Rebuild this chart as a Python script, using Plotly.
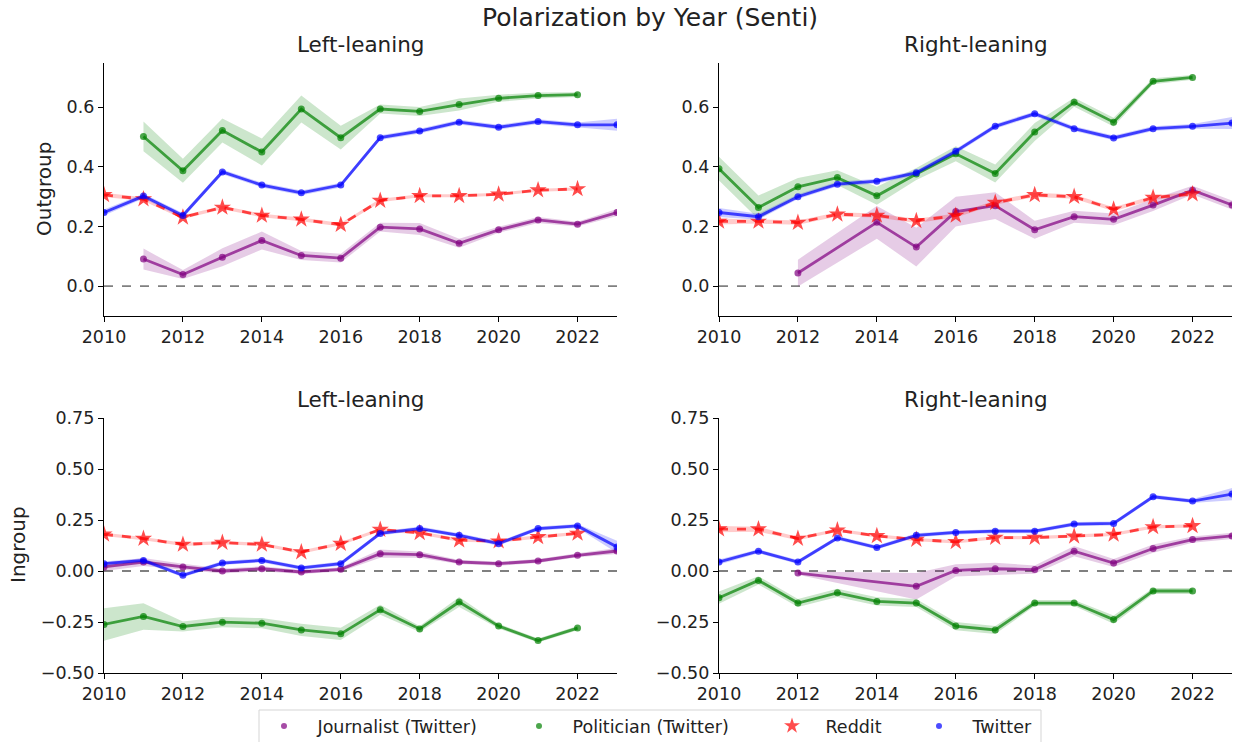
import plotly.graph_objects as go

years = list(range(2010, 2024))
series_names = ["Journalist (Twitter)", "Politician (Twitter)", "Reddit", "Twitter"]

# ---- Outgroup, Left-leaning ----
out_left_journalist = [None, 0.091, 0.039, 0.097, 0.153, 0.103, 0.094, 0.198, 0.192, 0.144, 0.189, 0.222, 0.208, 0.247]
out_left_journalist_ci = [None, 0.035, 0.015, 0.03, 0.03, 0.015, 0.015, 0.015, 0.02, 0.015, 0.01, 0.01, 0.008, 0.012]
out_left_politician = [None, 0.502, 0.387, 0.522, 0.450, 0.594, 0.498, 0.594, 0.586, 0.609, 0.630, 0.639, 0.642, None]
out_left_politician_ci = [None, 0.05, 0.04, 0.04, 0.045, 0.045, 0.04, 0.015, 0.015, 0.02, 0.012, 0.01, 0.008, None]
out_left_reddit = [0.306, 0.292, 0.231, 0.264, 0.237, 0.224, 0.206, 0.287, 0.303, 0.303, 0.308, 0.322, 0.326, None]
out_left_reddit_ci = [0.007, 0.006, 0.006, 0.006, 0.006, 0.006, 0.006, 0.006, 0.005, 0.005, 0.005, 0.005, 0.005, None]
out_left_twitter = [0.247, 0.302, 0.237, 0.383, 0.339, 0.313, 0.339, 0.498, 0.520, 0.550, 0.533, 0.552, 0.541, 0.541]
out_left_twitter_ci = [0.01, 0.008, 0.008, 0.008, 0.008, 0.008, 0.008, 0.008, 0.008, 0.008, 0.008, 0.008, 0.008, 0.02]

# ---- Outgroup, Right-leaning ----
out_right_journalist = [None, None, 0.044, None, 0.214, 0.131, 0.250, 0.270, 0.189, 0.233, 0.224, 0.272, 0.322, 0.272]
out_right_journalist_ci = [None, None, 0.045, None, 0.055, 0.065, 0.05, 0.045, 0.03, 0.02, 0.02, 0.02, 0.015, 0.015]
out_right_politician = [0.394, 0.264, 0.333, 0.364, 0.303, 0.376, 0.444, 0.378, 0.517, 0.617, 0.550, 0.687, 0.700, None]
out_right_politician_ci = [0.04, 0.04, 0.03, 0.025, 0.03, 0.02, 0.025, 0.03, 0.03, 0.015, 0.015, 0.01, 0.008, None]
out_right_reddit = [0.217, 0.217, 0.213, 0.241, 0.237, 0.219, 0.237, 0.280, 0.306, 0.300, 0.258, 0.297, 0.309, None]
out_right_reddit_ci = [0.01, 0.007, 0.007, 0.007, 0.007, 0.007, 0.007, 0.007, 0.007, 0.007, 0.007, 0.007, 0.007, None]
out_right_twitter = [0.247, 0.233, 0.300, 0.342, 0.352, 0.380, 0.452, 0.536, 0.578, 0.528, 0.497, 0.528, 0.536, 0.547]
out_right_twitter_ci = [0.015, 0.01, 0.008, 0.008, 0.008, 0.008, 0.008, 0.008, 0.008, 0.008, 0.008, 0.008, 0.008, 0.02]

# ---- Ingroup, Left-leaning ----
in_left_journalist = [0.020, 0.044, 0.020, 0.000, 0.011, -0.005, 0.008, 0.085, 0.080, 0.044, 0.036, 0.049, 0.077, 0.098]
in_left_journalist_ci = [0.02, 0.02, 0.015, 0.012, 0.012, 0.01, 0.01, 0.02, 0.015, 0.01, 0.01, 0.01, 0.01, 0.015]
in_left_politician = [-0.262, -0.223, -0.272, -0.251, -0.256, -0.289, -0.308, -0.190, -0.284, -0.152, -0.270, -0.341, -0.280, None]
in_left_politician_ci = [0.08, 0.065, 0.025, 0.025, 0.025, 0.03, 0.03, 0.025, 0.015, 0.025, 0.012, 0.01, 0.01, None]
in_left_reddit = [0.180, 0.159, 0.130, 0.139, 0.130, 0.093, 0.134, 0.203, 0.187, 0.151, 0.146, 0.167, 0.184, None]
in_left_reddit_ci = [0.008, 0.008, 0.008, 0.008, 0.008, 0.008, 0.008, 0.008, 0.008, 0.008, 0.008, 0.008, 0.008, None]
in_left_twitter = [0.036, 0.052, -0.021, 0.039, 0.052, 0.015, 0.036, 0.184, 0.208, 0.175, 0.134, 0.208, 0.221, 0.118]
in_left_twitter_ci = [0.01, 0.01, 0.01, 0.01, 0.01, 0.01, 0.01, 0.01, 0.01, 0.01, 0.01, 0.01, 0.01, 0.03]

# ---- Ingroup, Right-leaning ----
in_right_journalist = [None, None, -0.010, None, None, -0.075, 0.003, 0.011, 0.007, 0.097, 0.039, 0.110, 0.154, 0.172]
in_right_journalist_ci = [None, None, 0.008, None, None, 0.065, 0.03, 0.03, 0.02, 0.025, 0.02, 0.02, 0.015, 0.015]
in_right_politician = [-0.131, -0.046, -0.157, -0.107, -0.149, -0.157, -0.270, -0.289, -0.157, -0.157, -0.238, -0.098, -0.098, None]
in_right_politician_ci = [0.03, 0.02, 0.02, 0.02, 0.02, 0.02, 0.02, 0.02, 0.015, 0.015, 0.02, 0.015, 0.015, None]
in_right_reddit = [0.205, 0.205, 0.159, 0.200, 0.172, 0.154, 0.143, 0.164, 0.164, 0.170, 0.179, 0.216, 0.221, None]
in_right_reddit_ci = [0.015, 0.012, 0.008, 0.008, 0.008, 0.008, 0.008, 0.008, 0.008, 0.008, 0.008, 0.008, 0.008, None]
in_right_twitter = [0.044, 0.097, 0.044, 0.162, 0.115, 0.175, 0.189, 0.195, 0.195, 0.230, 0.233, 0.364, 0.343, 0.377]
in_right_twitter_ci = [0.012, 0.01, 0.01, 0.01, 0.01, 0.01, 0.01, 0.01, 0.01, 0.01, 0.01, 0.01, 0.01, 0.03]

x_ticks = [2010, 2012, 2014, 2016, 2018, 2020, 2022]
out_y_ticks = [0.0, 0.2, 0.4, 0.6]
in_y_ticks = [-0.5, -0.25, 0.0, 0.25, 0.5, 0.75]

line_colors = {
    "Journalist (Twitter)": "rgba(128,0,128,0.7)",
    "Politician (Twitter)": "rgba(0,128,0,0.7)",
    "Reddit": "rgba(255,0,0,0.7)",
    "Twitter": "rgba(0,0,255,0.7)",
}
band_colors = {
    "Journalist (Twitter)": "rgba(128,0,128,0.2)",
    "Politician (Twitter)": "rgba(0,128,0,0.2)",
    "Reddit": "rgba(255,0,0,0.2)",
    "Twitter": "rgba(0,0,255,0.2)",
}

panels = [
    ("x", "y", [
        ("Journalist (Twitter)", out_left_journalist, out_left_journalist_ci),
        ("Politician (Twitter)", out_left_politician, out_left_politician_ci),
        ("Reddit", out_left_reddit, out_left_reddit_ci),
        ("Twitter", out_left_twitter, out_left_twitter_ci),
    ]),
    ("x2", "y2", [
        ("Journalist (Twitter)", out_right_journalist, out_right_journalist_ci),
        ("Politician (Twitter)", out_right_politician, out_right_politician_ci),
        ("Reddit", out_right_reddit, out_right_reddit_ci),
        ("Twitter", out_right_twitter, out_right_twitter_ci),
    ]),
    ("x3", "y3", [
        ("Journalist (Twitter)", in_left_journalist, in_left_journalist_ci),
        ("Politician (Twitter)", in_left_politician, in_left_politician_ci),
        ("Reddit", in_left_reddit, in_left_reddit_ci),
        ("Twitter", in_left_twitter, in_left_twitter_ci),
    ]),
    ("x4", "y4", [
        ("Journalist (Twitter)", in_right_journalist, in_right_journalist_ci),
        ("Politician (Twitter)", in_right_politician, in_right_politician_ci),
        ("Reddit", in_right_reddit, in_right_reddit_ci),
        ("Twitter", in_right_twitter, in_right_twitter_ci),
    ]),
]

fig = go.Figure()

for xa, ya, series in panels:
    for name, vals, ci in series:
        xs = [yr for yr, v in zip(years, vals) if v is not None]
        vs = [v for v in vals if v is not None]
        cs = [c for v, c in zip(vals, ci) if v is not None]
        lo = [v - c for v, c in zip(vs, cs)]
        hi = [v + c for v, c in zip(vs, cs)]
        fig.add_trace(go.Scatter(
            x=xs + xs[::-1], y=hi + lo[::-1], fill="toself",
            fillcolor=band_colors[name], line=dict(width=0), mode="lines",
            xaxis=xa, yaxis=ya, showlegend=False, hoverinfo="skip"))
    for name, vals, ci in series:
        xs = [yr for yr, v in zip(years, vals) if v is not None]
        vs = [v for v in vals if v is not None]
        if name == "Reddit":
            marker = dict(symbol="star", size=13, color=line_colors[name], line=dict(width=0))
            line = dict(color=line_colors[name], width=2.8, dash="dash")
        else:
            marker = dict(symbol="circle", size=7, color=line_colors[name], line=dict(width=0))
            line = dict(color=line_colors[name], width=2.8)
        fig.add_trace(go.Scatter(
            x=xs, y=vs, mode="lines+markers", line=line, marker=marker,
            xaxis=xa, yaxis=ya, showlegend=False, name=name))

W, H = 1233, 742
font_family = "DejaVu Sans"
legend_font = dict(family=font_family, size=17.5, color="#222")

# legend-only entries (markers only), one legend per entry for exact placement
legend_marker_x = [284, 539, 792, 939]
legend_ids = ["legend", "legend2", "legend3", "legend4"]
for name, lid in zip(series_names, legend_ids):
    sym = "star" if name == "Reddit" else "circle"
    sz = 12 if name == "Reddit" else 6
    fig.add_trace(go.Scatter(
        x=[None], y=[None], mode="markers", name=name, legend=lid,
        marker=dict(symbol=sym, size=sz, color=line_colors[name]),
        xaxis="x", yaxis="y", showlegend=True))

legend_layout = {}
for lid, mx in zip(legend_ids, legend_marker_x):
    legend_layout[lid] = dict(x=(mx - 33.5) / W, y=1 - 726 / H, xanchor="left", yanchor="middle",
                              bgcolor="rgba(0,0,0,0)", borderwidth=0, font=legend_font,
                              itemwidth=57)


def px_x(a, b):
    return [a / W, b / W]


def px_y(top, bottom):
    return [1 - bottom / H, 1 - top / H]


tick_font = dict(family=font_family, size=17.5, color="#222")

axis_common = dict(showgrid=False, zeroline=False, showline=True, linecolor="black",
                   linewidth=1.2, ticks="outside", ticklen=5, tickwidth=1.2,
                   tickcolor="black", mirror=False, tickfont=tick_font)

x_dom_left = px_x(104, 617)
x_dom_right = px_x(719, 1232)
y_dom_top = px_y(62.5, 316)
y_dom_bot = px_y(418, 673)

layout_axes = {}
for i, (xd, yd, anchor_x, anchor_y, yt, yr, fmt) in enumerate([
    (x_dom_left, y_dom_top, "y", "x", out_y_ticks, [-0.1, 0.75], ".1f"),
    (x_dom_right, y_dom_top, "y2", "x2", out_y_ticks, [-0.1, 0.75], ".1f"),
    (x_dom_left, y_dom_bot, "y3", "x3", in_y_ticks, [-0.5, 0.75], ".2f"),
    (x_dom_right, y_dom_bot, "y4", "x4", in_y_ticks, [-0.5, 0.75], ".2f"),
]):
    suffix = "" if i == 0 else str(i + 1)
    layout_axes["xaxis" + suffix] = dict(axis_common, domain=xd, anchor=anchor_x,
                                         range=[2010, 2023], tickvals=x_ticks)
    layout_axes["yaxis" + suffix] = dict(axis_common, domain=yd, anchor=anchor_y,
                                         range=yr, tickvals=yt, tickformat=fmt)

fig.update_layout(**layout_axes)

# zero reference lines
for xa, ya in [("x", "y"), ("x2", "y2"), ("x3", "y3"), ("x4", "y4")]:
    fig.add_shape(type="line", xref=xa + " domain", yref=ya, x0=0, x1=1, y0=0, y1=0,
                  line=dict(color="gray", width=1.8, dash="dash"), layer="below")

# legend frame
fig.add_shape(type="rect", xref="paper", yref="paper",
              x0=259 / W, x1=1041 / W, y0=1 - 745 / H, y1=1 - 710 / H,
              line=dict(color="#d5d5d5", width=1), fillcolor="rgba(255,255,255,0.8)", layer="below")

title_font = dict(family=font_family, size=25, color="#222")
sub_font = dict(family=font_family, size=21.5, color="#222")
lab_font = dict(family=font_family, size=20, color="#222")

annotations = [
    dict(text="Polarization by Year (Senti)", x=650 / W, y=1 - 18 / H, font=title_font),
    dict(text="Left-leaning", x=360.5 / W, y=1 - 44 / H, font=sub_font),
    dict(text="Right-leaning", x=975.5 / W, y=1 - 44 / H, font=sub_font),
    dict(text="Left-leaning", x=360.5 / W, y=1 - 399 / H, font=sub_font),
    dict(text="Right-leaning", x=975.5 / W, y=1 - 399 / H, font=sub_font),
    dict(text="Outgroup", x=44 / W, y=1 - 189 / H, textangle=-90, font=lab_font),
    dict(text="Ingroup", x=18 / W, y=1 - 545 / H, textangle=-90, font=lab_font),
]
for a in annotations:
    a.update(xref="paper", yref="paper", showarrow=False, xanchor="center", yanchor="middle")

fig.update_layout(
    width=W, height=H,
    margin=dict(l=0, r=0, t=0, b=0, autoexpand=False),
    paper_bgcolor="white", plot_bgcolor="white",
    font=dict(family=font_family, size=17.5, color="#222"),
    annotations=annotations,
    showlegend=True,
    **legend_layout,
)

fig.write_html("out.html", config={"displayModeBar": False},
               post_script="document.body.style.margin='0';document.body.style.overflow='hidden';")
